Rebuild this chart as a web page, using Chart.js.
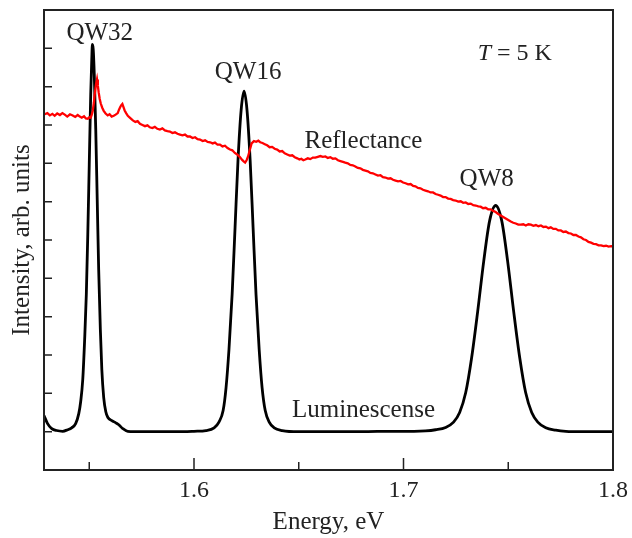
<!DOCTYPE html>
<html>
<head>
<meta charset="utf-8">
<script src="https://cdn.jsdelivr.net/npm/chart.js@4.4.1/dist/chart.umd.min.js"></script>
<style>
  html, body { margin: 0; padding: 0; background: #fff; }
  #wrap { width: 632px; height: 538px; }
</style>
</head>
<body>
<div id="wrap"><canvas id="c" width="632" height="538"></canvas></div>
<script>
// ---- data ----
const xTickValues = [1.55, 1.6, 1.65, 1.7, 1.75, 1.8];
const xTickLabels = {"1.6": "1.6", "1.7": "1.7", "1.8": "1.8"};
const yTickValues = [0, 1, 2, 3, 4, 5, 6, 7, 8, 9, 10];

const luminescencePoints = [
  [1.5284, 0.42], [1.5301, 0.21], [1.5321, 0.08], [1.5344, 0.03], [1.5373, 0.01],
  [1.5397, 0.05], [1.5416, 0.10], [1.5435, 0.21], [1.5450, 0.47], [1.5459, 0.78],
  [1.5469, 1.36], [1.5478, 2.40], [1.5486, 3.58], [1.5493, 5.14], [1.5500, 6.97],
  [1.5507, 8.80], [1.5512, 9.71], [1.5515, 10.10], [1.5519, 9.97], [1.5524, 9.32],
  [1.5531, 7.89], [1.5538, 6.06], [1.5545, 4.23], [1.5553, 2.66], [1.5560, 1.62],
  [1.5569, 0.89], [1.5579, 0.52], [1.5589, 0.37], [1.5608, 0.29], [1.5627, 0.23],
  [1.5641, 0.18], [1.5660, 0.08], [1.5684, 0.01], [1.5750, 0.00], [1.5850, 0.00],
  [1.5950, 0.00], [1.6000, 0.01], [1.6057, 0.03], [1.6096, 0.10], [1.6119, 0.25],
  [1.6139, 0.55], [1.6153, 1.15], [1.6167, 2.15], [1.6182, 3.58], [1.6196, 5.33],
  [1.6210, 7.08], [1.6225, 8.39], [1.6239, 8.88], [1.6253, 8.39], [1.6268, 7.08],
  [1.6282, 5.33], [1.6296, 3.58], [1.6311, 2.15], [1.6325, 1.15], [1.6340, 0.55],
  [1.6359, 0.25], [1.6383, 0.10], [1.6421, 0.03], [1.6500, 0.00], [1.6650, 0.00],
  [1.6800, 0.00], [1.6950, 0.01], [1.7050, 0.01], [1.7105, 0.02], [1.7153, 0.05],
  [1.7201, 0.11], [1.7239, 0.25], [1.7268, 0.50], [1.7297, 1.02], [1.7325, 1.92],
  [1.7354, 3.13], [1.7383, 4.45], [1.7411, 5.50], [1.7440, 5.90], [1.7469, 5.50],
  [1.7497, 4.45], [1.7526, 3.13], [1.7555, 1.92], [1.7583, 1.02], [1.7612, 0.50],
  [1.7641, 0.25], [1.7679, 0.10], [1.7727, 0.04], [1.7775, 0.01], [1.7850, 0.00],
  [1.8000, 0.00]
];

const reflectancePoints = [
  [1.5287, 8.28], [1.5300, 8.31], [1.5312, 8.25], [1.5324, 8.29], [1.5335, 8.24],
  [1.5347, 8.30], [1.5360, 8.26], [1.5372, 8.31], [1.5383, 8.27], [1.5395, 8.22],
  [1.5408, 8.28], [1.5421, 8.25], [1.5433, 8.21], [1.5445, 8.26], [1.5455, 8.22],
  [1.5464, 8.19], [1.5475, 8.23], [1.5484, 8.17], [1.5493, 8.16], [1.5500, 8.20],
  [1.5507, 8.19], [1.5512, 8.27], [1.5517, 8.38], [1.5522, 8.58], [1.5526, 8.80],
  [1.5532, 9.05], [1.5537, 9.19], [1.5541, 9.03], [1.5545, 8.85], [1.5550, 8.68],
  [1.5555, 8.56], [1.5562, 8.45], [1.5569, 8.37], [1.5578, 8.30], [1.5588, 8.25],
  [1.5597, 8.28], [1.5607, 8.22], [1.5617, 8.24], [1.5626, 8.27], [1.5636, 8.31],
  [1.5642, 8.40], [1.5648, 8.47], [1.5653, 8.52], [1.5658, 8.55], [1.5663, 8.47],
  [1.5669, 8.38], [1.5676, 8.31], [1.5684, 8.24], [1.5696, 8.18], [1.5708, 8.12],
  [1.5720, 8.08], [1.5731, 8.10], [1.5742, 8.03], [1.5754, 8.00], [1.5766, 7.97],
  [1.5778, 7.99], [1.5789, 7.94], [1.5801, 7.92], [1.5813, 7.95], [1.5825, 7.90],
  [1.5837, 7.88], [1.5849, 7.91], [1.5861, 7.86], [1.5873, 7.84], [1.5885, 7.83],
  [1.5897, 7.79], [1.5909, 7.81], [1.5921, 7.77], [1.5933, 7.75], [1.5945, 7.73],
  [1.5957, 7.75], [1.5969, 7.70], [1.5981, 7.70], [1.5993, 7.66], [1.6005, 7.68],
  [1.6017, 7.63], [1.6029, 7.62], [1.6041, 7.58], [1.6053, 7.60], [1.6065, 7.56],
  [1.6077, 7.55], [1.6089, 7.52], [1.6100, 7.54], [1.6112, 7.49], [1.6124, 7.49],
  [1.6136, 7.44], [1.6148, 7.46], [1.6160, 7.40], [1.6172, 7.36], [1.6183, 7.34],
  [1.6195, 7.27], [1.6206, 7.23], [1.6218, 7.17], [1.6230, 7.09], [1.6237, 7.05],
  [1.6244, 7.02], [1.6251, 7.08], [1.6258, 7.18], [1.6266, 7.34], [1.6275, 7.52],
  [1.6286, 7.58], [1.6297, 7.56], [1.6307, 7.59], [1.6316, 7.55], [1.6327, 7.53],
  [1.6338, 7.50], [1.6349, 7.47], [1.6361, 7.42], [1.6373, 7.43], [1.6385, 7.38],
  [1.6397, 7.36], [1.6409, 7.31], [1.6421, 7.32], [1.6433, 7.26], [1.6445, 7.23],
  [1.6457, 7.20], [1.6469, 7.21], [1.6481, 7.16], [1.6493, 7.13], [1.6503, 7.10],
  [1.6512, 7.12], [1.6522, 7.08], [1.6531, 7.10], [1.6543, 7.13], [1.6555, 7.11],
  [1.6567, 7.15], [1.6579, 7.15], [1.6591, 7.17], [1.6603, 7.19], [1.6615, 7.17],
  [1.6627, 7.18], [1.6639, 7.14], [1.6651, 7.16], [1.6663, 7.12], [1.6675, 7.13],
  [1.6687, 7.08], [1.6699, 7.06], [1.6711, 7.04], [1.6722, 7.02], [1.6734, 7.00],
  [1.6746, 6.96], [1.6758, 6.95], [1.6770, 6.92], [1.6782, 6.88], [1.6794, 6.87],
  [1.6806, 6.83], [1.6818, 6.81], [1.6830, 6.79], [1.6842, 6.75], [1.6854, 6.74],
  [1.6866, 6.71], [1.6878, 6.68], [1.6890, 6.69], [1.6902, 6.64], [1.6914, 6.63],
  [1.6926, 6.60], [1.6938, 6.61], [1.6950, 6.57], [1.6962, 6.55], [1.6974, 6.53],
  [1.6986, 6.54], [1.6998, 6.50], [1.7010, 6.48], [1.7022, 6.45], [1.7034, 6.46],
  [1.7046, 6.41], [1.7057, 6.40], [1.7069, 6.36], [1.7081, 6.35], [1.7093, 6.31],
  [1.7105, 6.29], [1.7117, 6.27], [1.7129, 6.24], [1.7141, 6.24], [1.7153, 6.20],
  [1.7165, 6.18], [1.7177, 6.16], [1.7189, 6.12], [1.7201, 6.12], [1.7213, 6.08],
  [1.7225, 6.07], [1.7237, 6.04], [1.7249, 6.03], [1.7261, 6.00], [1.7273, 6.01],
  [1.7285, 5.97], [1.7297, 5.98], [1.7309, 5.94], [1.7321, 5.95], [1.7333, 5.91],
  [1.7345, 5.90], [1.7357, 5.88], [1.7368, 5.87], [1.7380, 5.83], [1.7392, 5.84],
  [1.7404, 5.80], [1.7416, 5.80], [1.7428, 5.76], [1.7440, 5.73], [1.7452, 5.68],
  [1.7464, 5.64], [1.7476, 5.60], [1.7488, 5.56], [1.7500, 5.52], [1.7512, 5.48],
  [1.7524, 5.45], [1.7536, 5.43], [1.7548, 5.40], [1.7560, 5.40], [1.7572, 5.41],
  [1.7584, 5.38], [1.7596, 5.41], [1.7608, 5.40], [1.7620, 5.37], [1.7632, 5.39],
  [1.7644, 5.36], [1.7656, 5.38], [1.7668, 5.34], [1.7680, 5.35], [1.7692, 5.31],
  [1.7703, 5.33], [1.7715, 5.29], [1.7727, 5.29], [1.7739, 5.25], [1.7751, 5.25],
  [1.7763, 5.21], [1.7775, 5.22], [1.7787, 5.18], [1.7799, 5.17], [1.7811, 5.13],
  [1.7823, 5.13], [1.7835, 5.09], [1.7847, 5.07], [1.7859, 5.02], [1.7871, 5.00],
  [1.7883, 4.95], [1.7895, 4.93], [1.7907, 4.90], [1.7919, 4.89], [1.7931, 4.86],
  [1.7943, 4.86], [1.7955, 4.84], [1.7967, 4.85], [1.7979, 4.83], [1.7991, 4.84],
  [1.8000, 4.83]
];

// text annotations placed in data coordinates
const annotations = [
  { text: "QW32", x: 1.5550, y: 10.23 },
  { text: "QW16", x: 1.6258, y: 9.19 },
  { text: "QW8", x: 1.7397, y: 6.40 },
  { text: "Reflectance", x: 1.6809, y: 7.39 },
  { text: "Luminescense", x: 1.6809, y: 0.37 }
];
const tempLabel = { italic: "T", rest: " = 5 K", x: 1.7354, y: 9.69 };

// ---- chart ----
const FONT = "'Liberation Serif', 'Times New Roman', serif";
const TEXT = '#222';

const framePlugin = {
  id: 'frame',
  afterDatasetsDraw(chart) {
    const { ctx, chartArea: a, scales: { x, y } } = chart;
    ctx.save();
    ctx.strokeStyle = TEXT;
    ctx.lineWidth = 2;
    ctx.strokeRect(a.left, a.top, a.right - a.left, a.bottom - a.top);
    ctx.lineWidth = 1.5;
    ctx.beginPath();
    yTickValues.forEach(v => {
      const py = y.getPixelForValue(v);
      ctx.moveTo(a.left, py); ctx.lineTo(a.left + 8, py);
    });
    xTickValues.forEach(v => {
      const px = x.getPixelForValue(v);
      const len = xTickLabels[String(v)] ? 12 : 8;
      ctx.moveTo(px, a.bottom); ctx.lineTo(px, a.bottom - len);
    });
    ctx.stroke();

    ctx.fillStyle = TEXT;
    ctx.textBaseline = 'alphabetic';
    ctx.font = "25px " + FONT;
    ctx.textAlign = 'center';
    annotations.forEach(an => {
      ctx.fillText(an.text, x.getPixelForValue(an.x), y.getPixelForValue(an.y));
    });
    ctx.textAlign = 'left';
    const tx = x.getPixelForValue(tempLabel.x), ty = y.getPixelForValue(tempLabel.y);
    ctx.font = "italic 24px " + FONT;
    ctx.fillText(tempLabel.italic, tx, ty);
    const w = ctx.measureText(tempLabel.italic).width;
    ctx.font = "24px " + FONT;
    ctx.fillText(tempLabel.rest, tx + w, ty);
    ctx.restore();
  }
};

new Chart(document.getElementById('c'), {
  type: 'line',
  data: {
    datasets: [
      {
        label: 'Reflectance',
        data: reflectancePoints.map(p => ({ x: p[0], y: p[1] })),
        borderColor: '#ff0000',
        borderWidth: 2.3,
        pointRadius: 0,
        tension: 0,
        fill: false
      },
      {
        label: 'Luminescense',
        data: luminescencePoints.map(p => ({ x: p[0], y: p[1] })),
        borderColor: '#000000',
        borderWidth: 2.8,
        pointRadius: 0,
        cubicInterpolationMode: 'monotone',
        fill: false
      }
    ]
  },
  options: {
    responsive: false,
    animation: false,
    devicePixelRatio: 1,
    layout: { padding: { left: 0, right: 0, top: 10, bottom: 0 } },
    plugins: { legend: { display: false }, tooltip: { enabled: false } },
    scales: {
      x: {
        type: 'linear',
        min: 1.5284,
        max: 1.8,
        afterBuildTicks: s => { s.ticks = xTickValues.map(v => ({ value: v })); },
        afterFit: s => { s.paddingRight = 19; s.paddingLeft = 0; },
        ticks: {
          autoSkip: false,
          maxRotation: 0,
          padding: 6.6,
          color: TEXT,
          font: { family: FONT, size: 24, lineHeight: 1.2 },
          callback: v => xTickLabels[String(v)] || ''
        },
        grid: { display: false, drawTicks: false },
        border: { display: false },
        title: {
          display: true,
          text: 'Energy, eV',
          color: TEXT,
          font: { family: FONT, size: 25, lineHeight: 0.8 },
          padding: { top: 0, bottom: 6 }
        }
      },
      y: {
        type: 'linear',
        min: -1,
        max: 11,
        ticks: { display: false },
        grid: { display: false, drawTicks: false },
        border: { display: false },
        title: {
          display: true,
          text: 'Intensity, arb. units',
          color: TEXT,
          font: { family: FONT, size: 25 },
          padding: { top: 7, bottom: 7 }
        }
      }
    }
  },
  plugins: [framePlugin]
});
</script>
</body>
</html>
